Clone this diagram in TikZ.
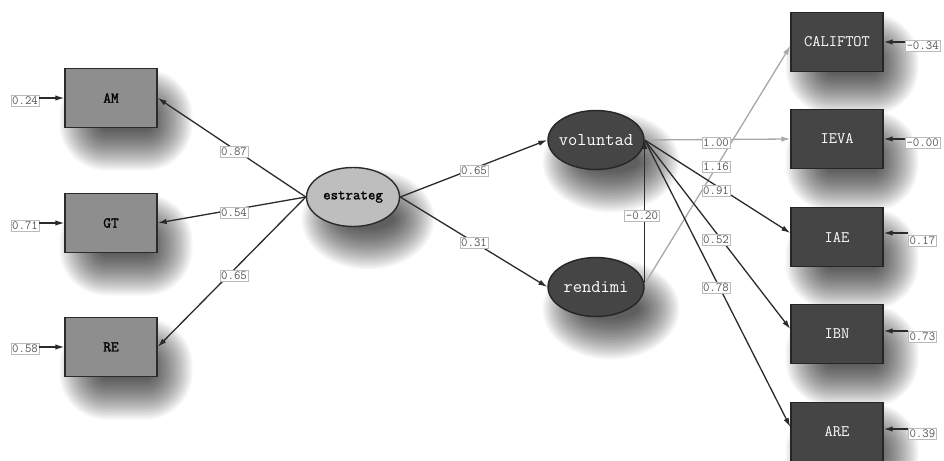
\documentclass[tikz,border=0pt]{standalone}
\usepackage{fontspec}
\newfontfamily\lmttb[FakeBold=1.5]{Latin Modern Mono}
\usetikzlibrary{arrows.meta,shapes.geometric}
\definecolor{darkfill}{HTML}{454545}
\definecolor{midfill}{HTML}{8E8E8E}
\definecolor{lightfill}{HTML}{BEBEBE}
\definecolor{edgedark}{HTML}{2B2B2B}
\definecolor{edgegray}{HTML}{A8A8A8}
\definecolor{lbltext}{HTML}{555555}
\definecolor{lblborder}{HTML}{BBBBBB}
\tikzset{
  obsL/.style={rectangle, draw=edgedark, line width=1.4pt, fill=midfill, minimum width=92pt, minimum height=59pt, font=\lmttb\fontsize{15}{17}\selectfont, text=black},
  obsR/.style={rectangle, draw=black!85, line width=1.4pt, fill=darkfill, minimum width=92pt, minimum height=59pt, font=\ttfamily\fontsize{16}{18}\selectfont, text=white},
  latL/.style={ellipse, draw=edgedark, line width=1.4pt, fill=lightfill, minimum width=93pt, minimum height=59pt, inner xsep=-12pt, inner ysep=0pt, font=\lmttb\fontsize{14.5}{16}\selectfont, text=black},
  latD/.style={ellipse, draw=black!85, line width=1.4pt, fill=darkfill, minimum width=96pt, minimum height=59pt, inner xsep=-14pt, inner ysep=0pt, font=\ttfamily\fontsize{18}{19}\selectfont, text=white},
  lbl/.style={fill=white, draw=lblborder, line width=0.6pt, text=lbltext, font=\ttfamily\fontsize{12.5}{13}\selectfont, inner xsep=1.2pt, inner ysep=1.5pt, text height=8pt, text depth=0.5pt},
  arr/.style={draw=edgedark, line width=1.3pt, -{Latex[length=9pt,width=5.5pt]}},
  garr/.style={draw=edgegray, line width=1.3pt, -{Latex[length=9pt,width=5.5pt,fill=edgegray]}},
  shd/.style={fill=black, opacity=0.03},
}
\begin{document}
\begin{tikzpicture}[x=1pt,y=-1pt]
\useasboundingbox[fill=white] (0,0) rectangle (944,460);
% soft drop shadows: rectangles
\foreach \cx/\cy in {111/98,111/223,111/347,837/42,837/139,837/237,837/334,837/432}{
  \foreach \k in {0,...,27}{
    \pgfmathsetmacro{\hw}{46-20+1.5*\k}
    \pgfmathsetmacro{\hh}{30-20+1.5*\k}
    \pgfmathsetmacro{\rc}{6+1.5*\k}
    \fill[shd, rounded corners=\rc pt] (\cx+15-\hw,\cy+22-\hh) rectangle (\cx+15+\hw,\cy+22+\hh);
  }
}
% soft drop shadows: ellipses
\foreach \cx/\cy/\rx in {353/197/46,596/140/48,596/287/48}{
  \foreach \k in {0,...,27}{
    \pgfmathsetmacro{\ra}{\rx-20+1.5*\k}
    \pgfmathsetmacro{\rb}{30-20+1.5*\k}
    \fill[shd] (\cx+15,\cy+22) ellipse [x radius=\ra pt, y radius=\rb pt];
  }
}
% observed left
\node[obsL] (AM) at (111,98) {AM};
\node[obsL] (GT) at (111,223) {GT};
\node[obsL] (RE) at (111,347) {RE};
% latent
\node[latL] (estrateg) at (353,197) {estrateg};
\node[latD] (voluntad) at (596,140) {voluntad};
\node[latD] (rendimi) at (596,287) {rendimi};
% observed right
\node[obsR] (CALIFTOT) at (837,42) {CALIFTOT};
\node[obsR] (IEVA) at (837,139) {IEVA};
\node[obsR] (IAE) at (837,237) {IAE};
\node[obsR] (IBN) at (837,334) {IBN};
\node[obsR] (ARE) at (837,432) {ARE};
% error labels left
\node[lbl] (eAM) at (25,101) {0.24};
\node[lbl] (eGT) at (25,226) {0.71};
\node[lbl] (eRE) at (25,349) {0.58};
% error labels right
\node[lbl, anchor=west] (eCAL) at (905,46) {-0.34};
\node[lbl, anchor=west] (eIEVA) at (905,143) {-0.00};
\node[lbl, anchor=west] (eIAE) at (908,241) {0.17};
\node[lbl, anchor=west] (eIBN) at (908,337) {0.73};
\node[lbl, anchor=west] (eARE) at (908,434) {0.39};
% error arrows
\draw[arr] (eAM.east |- AM.west) -- (AM.west);
\draw[arr] (eGT.east |- GT.west) -- (GT.west);
\draw[arr] (eRE.east |- RE.west) -- (RE.west);
\draw[arr] (eCAL.west |- CALIFTOT.east) -- (CALIFTOT.east);
\draw[arr] (eIEVA.west |- IEVA.east) -- (IEVA.east);
\draw[arr] ([yshift=4pt]eIAE.west |- IAE.east) -- ([yshift=4pt]IAE.east);
\draw[arr] ([yshift=3pt]eIBN.west |- IBN.east) -- ([yshift=3pt]IBN.east);
\draw[arr] ([yshift=3pt]eARE.west |- ARE.east) -- ([yshift=3pt]ARE.east);
% structural paths
\draw[arr] (estrateg.west) -- (AM.east);
\draw[arr] (estrateg.west) -- (GT.east);
\draw[arr] (estrateg.west) -- (RE.east);
\draw[arr] (estrateg.east) -- (voluntad.west);
\draw[arr] (estrateg.east) -- (rendimi.west);
\draw[arr] ([yshift=3pt]rendimi.east) -- (voluntad.east);
\draw[garr] ([yshift=3pt]rendimi.east) -- ([yshift=-4pt]CALIFTOT.west);
\draw[garr] (voluntad.east) -- (IEVA.west);
\draw[arr] (voluntad.east) -- ([yshift=4pt]IAE.west);
\draw[arr] (voluntad.east) -- ([yshift=5pt]IBN.west);
\draw[arr] (voluntad.east) -- ([yshift=5pt]ARE.west);
% path labels
\node[lbl] (l1) at (234,152) {0.87};
\node[lbl] (l2) at (234,213) {0.54};
\node[lbl] (l3) at (234,276) {0.65};
\node[lbl] (l4) at (474,171) {0.65};
\node[lbl] (l5) at (474,243) {0.31};
\node[lbl] (l6) at (642,216) {-0.20};
\node[lbl] (l7) at (716,143) {1.00};
\node[lbl] (l8) at (716,167) {1.16};
\node[lbl] (l9) at (716,191) {0.91};
\node[lbl] (l10) at (716,240) {0.52};
\node[lbl] (l11) at (716,288) {0.78};
\end{tikzpicture}
\end{document}
